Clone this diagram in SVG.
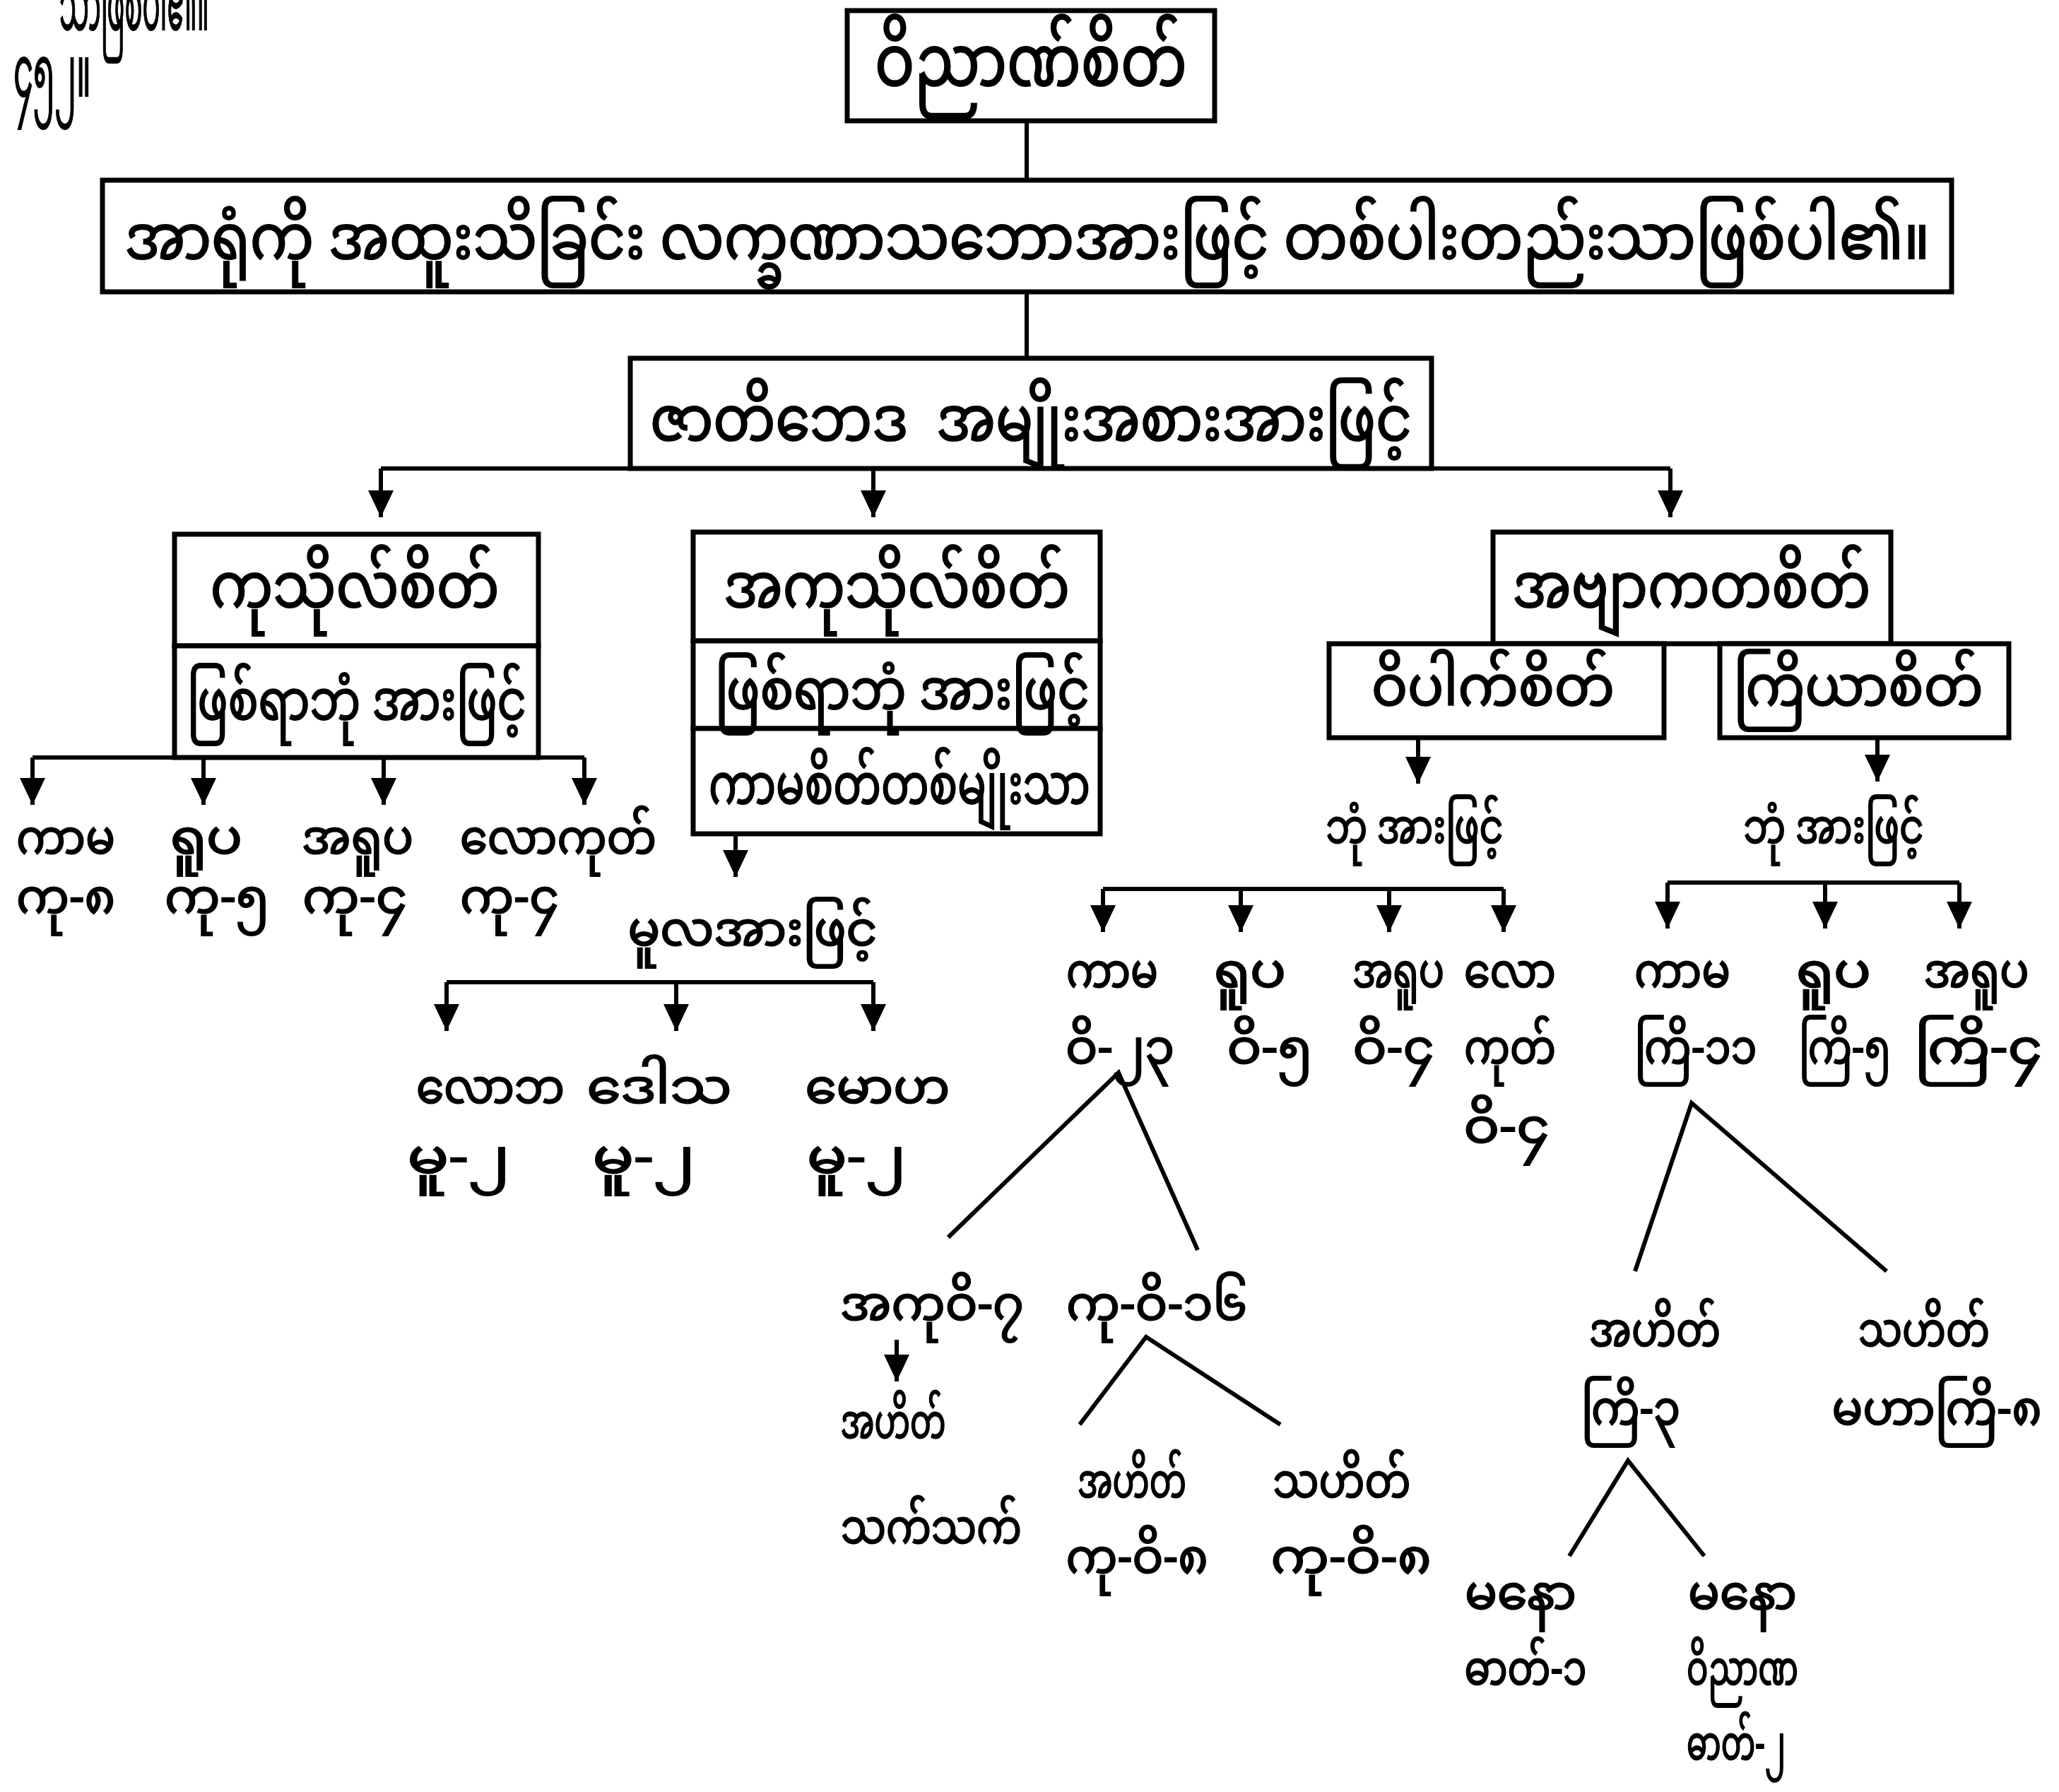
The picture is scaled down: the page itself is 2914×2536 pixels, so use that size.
<svg xmlns="http://www.w3.org/2000/svg" width="2914" height="2536" viewBox="0 0 2914 2536">
<style>
text{font-family:"Noto Sans Myanmar","Padauk","Myanmar Text","Myanmar3","Noto Sans","DejaVu Sans",sans-serif;fill:#000;stroke:#000;stroke-width:2;text-anchor:middle}
.box{fill:#fff;stroke:#000;stroke-width:7}
.c{stroke:#000;stroke-width:6;fill:none}
.a{stroke:#000;stroke-width:6;fill:none;marker-end:url(#ah)}
.t1{font-size:100px}
.t2{font-size:88px}
.t3{font-size:78px}
.l{font-size:68px}
.h{text-anchor:start}
</style>
<defs>
<marker id="ah" markerUnits="userSpaceOnUse" markerWidth="40" markerHeight="38" refX="38" refY="18" orient="auto" viewBox="0 0 40 36">
<path d="M0,0 L38,18 L0,36 Z" fill="#000"/>
</marker>
</defs>
<rect width="2914" height="2536" fill="#fff"/>

<g id="header">
<text x="84" y="42" class="h" style="font-size:100px" textLength="212" lengthAdjust="spacingAndGlyphs">သာဖြစ်ပါ၏။</text>
<text x="19" y="136" class="h" style="font-size:100px" textLength="110" lengthAdjust="spacingAndGlyphs">၄၅၂။</text>
</g>

<g id="connectors">
<line class="c" x1="1453" y1="171" x2="1453" y2="255"/>
<line class="c" x1="1453" y1="413" x2="1453" y2="507"/>
<line class="c" x1="539" y1="663" x2="2364" y2="663"/>
<line class="a" x1="539" y1="663" x2="539" y2="732"/>
<line class="a" x1="1236" y1="663" x2="1236" y2="732"/>
<line class="a" x1="2364" y1="663" x2="2364" y2="732"/>

<line class="c" x1="46" y1="1072" x2="827" y2="1072"/>
<line class="a" x1="46" y1="1072" x2="46" y2="1139"/>
<line class="a" x1="288" y1="1072" x2="288" y2="1139"/>
<line class="a" x1="543" y1="1072" x2="543" y2="1139"/>
<line class="a" x1="827" y1="1072" x2="827" y2="1139"/>

<line class="a" x1="1041" y1="1180" x2="1041" y2="1241"/>
<line class="c" x1="632" y1="1390" x2="1236" y2="1390"/>
<line class="a" x1="632" y1="1390" x2="632" y2="1459"/>
<line class="a" x1="957" y1="1390" x2="957" y2="1459"/>
<line class="a" x1="1236" y1="1390" x2="1236" y2="1459"/>

<line class="a" x1="2007" y1="1044" x2="2007" y2="1109"/>
<line class="c" x1="1561" y1="1258" x2="2128" y2="1258"/>
<line class="a" x1="1561" y1="1258" x2="1561" y2="1319"/>
<line class="a" x1="1756" y1="1258" x2="1756" y2="1319"/>
<line class="a" x1="1966" y1="1258" x2="1966" y2="1319"/>
<line class="a" x1="2128" y1="1258" x2="2128" y2="1319"/>

<line class="a" x1="2657" y1="1044" x2="2657" y2="1106"/>
<line class="c" x1="2360" y1="1249" x2="2773" y2="1249"/>
<line class="a" x1="2360" y1="1249" x2="2360" y2="1314"/>
<line class="a" x1="2583" y1="1249" x2="2583" y2="1314"/>
<line class="a" x1="2773" y1="1249" x2="2773" y2="1314"/>

<polyline class="c" points="1342,1751 1583,1518 1695,1769"/>
<line class="a" x1="1269" y1="1896" x2="1269" y2="1955"/>
<polyline class="c" points="1528,2016 1622,1892 1812,2016"/>

<polyline class="c" points="2314,1799 2394,1561 2670,1799"/>
<polyline class="c" points="2221,2202 2304,2067 2412,2202"/>
</g>

<g id="n-vinnana">
<rect class="box" x="1199" y="15" width="520" height="156"/>
<text x="1459" y="121" class="t1" textLength="442" lengthAdjust="spacingAndGlyphs">ဝိညာဏ်စိတ်</text>
</g>

<g id="n-lakkhana">
<rect class="box" x="145" y="255" width="2617" height="158"/>
<text x="1454" y="366" class="t2" textLength="2555" lengthAdjust="spacingAndGlyphs">အာရုံကို အထူးသိခြင်း လက္ခဏာသဘောအားဖြင့် တစ်ပါးတည်းသာဖြစ်ပါ၏။</text>
</g>

<g id="n-jati">
<rect class="box" x="892" y="507" width="1134" height="156"/>
<text x="1459" y="623" class="t2" textLength="1078" lengthAdjust="spacingAndGlyphs">ဇာတိဘေဒ&#160;&#160;အမျိုးအစားအားဖြင့်</text>
</g>

<g id="n-kusala">
<rect class="box" x="247" y="756" width="515" height="158"/>
<rect class="box" x="247" y="914" width="515" height="158"/>
<text x="502" y="859" class="t2" textLength="409" lengthAdjust="spacingAndGlyphs">ကုသိုလ်စိတ်</text>
<text x="505" y="1018" class="t3" textLength="480" lengthAdjust="spacingAndGlyphs">ဖြစ်ရာဘုံ အားဖြင့်</text>
</g>

<g id="n-kusala-bhumi">
<text x="93" y="1208" class="l" textLength="140" lengthAdjust="spacingAndGlyphs">ကာမ</text>
<text x="292" y="1208" class="l" textLength="102" lengthAdjust="spacingAndGlyphs">ရူပ</text>
<text x="506" y="1208" class="l" textLength="158" lengthAdjust="spacingAndGlyphs">အရူပ</text>
<text x="790" y="1208" class="l" textLength="278" lengthAdjust="spacingAndGlyphs">လောကုတ်</text>
<text x="93" y="1292" class="l" textLength="140" lengthAdjust="spacingAndGlyphs">ကု-၈</text>
<text x="307" y="1292" class="l" textLength="148" lengthAdjust="spacingAndGlyphs">ကု-၅</text>
<text x="502" y="1292" class="l" textLength="148" lengthAdjust="spacingAndGlyphs">ကု-၄</text>
<text x="721" y="1292" class="l" textLength="140" lengthAdjust="spacingAndGlyphs">ကု-၄</text>
</g>

<g id="n-akusala">
<rect class="box" x="981" y="753" width="576" height="154"/>
<rect class="box" x="981" y="907" width="576" height="124"/>
<rect class="box" x="981" y="1031" width="576" height="149"/>
<text x="1269" y="859" class="t2" textLength="490" lengthAdjust="spacingAndGlyphs">အကုသိုလ်စိတ်</text>
<text x="1277" y="1003" class="t3" textLength="530" lengthAdjust="spacingAndGlyphs">ဖြစ်ရာဘုံ အားဖြင့်</text>
<text x="1273" y="1137" class="t3" textLength="540" lengthAdjust="spacingAndGlyphs">ကာမစိတ်တစ်မျိုးသာ</text>
</g>

<g id="n-mula">
<text x="1065" y="1338" class="l" textLength="353" lengthAdjust="spacingAndGlyphs">မူလအားဖြင့်</text>
<text x="694" y="1561" class="l" textLength="210" lengthAdjust="spacingAndGlyphs">လောဘ</text>
<text x="933" y="1561" class="l" textLength="205" lengthAdjust="spacingAndGlyphs">ဒေါသ</text>
<text x="1242" y="1561" class="l" textLength="205" lengthAdjust="spacingAndGlyphs">မောဟ</text>
<text x="649" y="1660" class="l" textLength="145" lengthAdjust="spacingAndGlyphs">မူ-၂</text>
<text x="911" y="1660" class="l" textLength="145" lengthAdjust="spacingAndGlyphs">မူ-၂</text>
<text x="1212" y="1660" class="l" textLength="140" lengthAdjust="spacingAndGlyphs">မူ-၂</text>
</g>

<g id="n-abyakata">
<rect class="box" x="2113" y="753" width="563" height="158"/>
<text x="2394" y="859" class="t2" textLength="507" lengthAdjust="spacingAndGlyphs">အဗျာကတစိတ်</text>
</g>

<g id="n-vipaka">
<rect class="box" x="1881" y="911" width="474" height="133"/>
<text x="2113" y="998" class="t3" textLength="344" lengthAdjust="spacingAndGlyphs">ဝိပါက်စိတ်</text>
</g>

<g id="n-kiriya">
<rect class="box" x="2434" y="911" width="409" height="133"/>
<text x="2630" y="998" class="t3" textLength="353" lengthAdjust="spacingAndGlyphs">ကြိယာစိတ်</text>
</g>

<g id="n-vipaka-bhumi">
<text x="2002" y="1193" class="l" textLength="251" lengthAdjust="spacingAndGlyphs">ဘုံ အားဖြင့်</text>
<text x="1574" y="1397" class="l" textLength="130" lengthAdjust="spacingAndGlyphs">ကာမ</text>
<text x="1769" y="1397" class="l" textLength="102" lengthAdjust="spacingAndGlyphs">ရူပ</text>
<text x="1979" y="1397" class="l" textLength="130" lengthAdjust="spacingAndGlyphs">အရူပ</text>
<text x="2137" y="1397" class="l" textLength="130" lengthAdjust="spacingAndGlyphs">လော</text>
<text x="1585" y="1505" class="l" textLength="154" lengthAdjust="spacingAndGlyphs">ဝိ-၂၃</text>
<text x="1797" y="1505" class="l" textLength="121" lengthAdjust="spacingAndGlyphs">ဝိ-၅</text>
<text x="1972" y="1505" class="l" textLength="115" lengthAdjust="spacingAndGlyphs">ဝိ-၄</text>
<text x="2137" y="1505" class="l" textLength="130" lengthAdjust="spacingAndGlyphs">ကုတ်</text>
<text x="2132" y="1617" class="l" textLength="121" lengthAdjust="spacingAndGlyphs">ဝိ-၄</text>
</g>

<g id="n-kiriya-bhumi">
<text x="2595" y="1193" class="l" textLength="255" lengthAdjust="spacingAndGlyphs">ဘုံ အားဖြင့်</text>
<text x="2381" y="1397" class="l" textLength="136" lengthAdjust="spacingAndGlyphs">ကာမ</text>
<text x="2595" y="1397" class="l" textLength="106" lengthAdjust="spacingAndGlyphs">ရူပ</text>
<text x="2797" y="1397" class="l" textLength="149" lengthAdjust="spacingAndGlyphs">အရူပ</text>
<text x="2400" y="1505" class="l" textLength="173" lengthAdjust="spacingAndGlyphs">ကြိ-၁၁</text>
<text x="2611" y="1505" class="l" textLength="130" lengthAdjust="spacingAndGlyphs">ကြိ-၅</text>
<text x="2800" y="1505" class="l" textLength="180" lengthAdjust="spacingAndGlyphs">ကြိ-၄</text>
</g>

<g id="n-kama-vipaka">
<text x="1319" y="1868" class="l" textLength="260" lengthAdjust="spacingAndGlyphs">အကုဝိ-၇</text>
<text x="1264" y="2035" class="l" textLength="149" lengthAdjust="spacingAndGlyphs">အဟိတ်</text>
<text x="1318" y="2184" class="l" textLength="256" lengthAdjust="spacingAndGlyphs">သက်သက်</text>
<text x="1637" y="1868" class="l" textLength="256" lengthAdjust="spacingAndGlyphs">ကု-ဝိ-၁၆</text>
<text x="1602" y="2119" class="l" textLength="154" lengthAdjust="spacingAndGlyphs">အဟိတ်</text>
<text x="1899" y="2119" class="l" textLength="195" lengthAdjust="spacingAndGlyphs">သဟိတ်</text>
<text x="1609" y="2226" class="l" textLength="201" lengthAdjust="spacingAndGlyphs">ကု-ဝိ-၈</text>
<text x="1912" y="2226" class="l" textLength="227" lengthAdjust="spacingAndGlyphs">ကု-ဝိ-၈</text>
</g>

<g id="n-kama-kiriya">
<text x="2342" y="1905" class="l" textLength="186" lengthAdjust="spacingAndGlyphs">အဟိတ်</text>
<text x="2308" y="2016" class="l" textLength="140" lengthAdjust="spacingAndGlyphs">ကြိ-၃</text>
<text x="2723" y="1905" class="l" textLength="186" lengthAdjust="spacingAndGlyphs">သဟိတ်</text>
<text x="2741" y="2016" class="l" textLength="297" lengthAdjust="spacingAndGlyphs">မဟာကြိ-၈</text>
<text x="2152" y="2277" class="l" textLength="158" lengthAdjust="spacingAndGlyphs">မနော</text>
<text x="2159" y="2384" class="l" textLength="173" lengthAdjust="spacingAndGlyphs">ဓာတ်-၁</text>
<text x="2466" y="2277" class="l" textLength="154" lengthAdjust="spacingAndGlyphs">မနော</text>
<text x="2466" y="2384" class="l" textLength="158" lengthAdjust="spacingAndGlyphs">ဝိညာဏ</text>
<text x="2457" y="2490" class="l" textLength="140" lengthAdjust="spacingAndGlyphs">ဓာတ်-၂</text>
</g>
</svg>
